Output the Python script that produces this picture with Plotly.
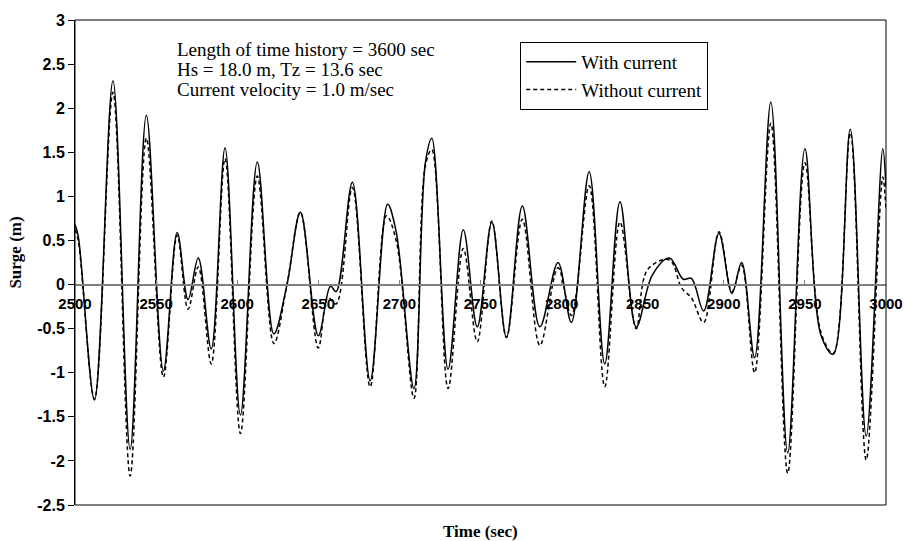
import plotly.graph_objects as go

# ---- data ----
time_with = [2500, 2502, 2512, 2523.4, 2534, 2544, 2554.5, 2563, 2569.7, 2576, 2584, 2592.5,
             2602, 2612.4, 2622.6, 2630.7, 2639, 2650, 2657.5, 2661, 2671, 2682, 2692.7, 2698,
             2709, 2716, 2720, 2730, 2739.4, 2748, 2757, 2766, 2775.8, 2786.6, 2797.8, 2806,
             2817, 2826.6, 2836, 2846, 2856, 2866.5, 2875, 2880, 2887.6, 2897, 2905, 2911,
             2919, 2929, 2939.4, 2950, 2960, 2967.5, 2978, 2987.8, 2998, 3000]
surge_with = [0.68, 0.55, -1.31, 2.31, -1.87, 1.92, -0.98, 0.59, -0.17, 0.30, -0.73, 1.55,
              -1.48, 1.39, -0.56, 0.0, 0.82, -0.58, -0.02, -0.08, 1.16, -1.09, 0.91, 0.60,
              -1.18, 1.38, 1.66, -0.96, 0.62, -0.48, 0.71, -0.60, 0.89, -0.48, 0.25, -0.43,
              1.28, -0.90, 0.94, -0.48, 0.11, 0.30, 0.06, 0.07, -0.30, 0.58, -0.10, 0.25,
              -0.83, 2.07, -1.91, 1.54, -0.58, -0.79, 1.76, -1.72, 1.54, 1.10]

time_without = [2500, 2502, 2512, 2523.4, 2534, 2544, 2554.5, 2563, 2569.7, 2576, 2584, 2592.5,
                2602, 2612.4, 2622.6, 2630.7, 2639, 2650, 2656, 2661, 2671, 2682, 2692, 2698,
                2709, 2716, 2720, 2730, 2739.4, 2748, 2757, 2766, 2775.8, 2786.6, 2797.8, 2806,
                2817, 2826.6, 2836, 2846, 2853, 2866.5, 2874, 2880, 2887.6, 2897, 2905, 2911,
                2919, 2929, 2939.4, 2950, 2960, 2967.5, 2978, 2987.8, 2998, 3000]
surge_without = [0.62, 0.50, -1.30, 2.18, -2.17, 1.66, -1.05, 0.56, -0.28, 0.20, -0.90, 1.43,
                 -1.69, 1.23, -0.67, 0.0, 0.82, -0.72, -0.15, -0.22, 1.10, -1.16, 0.78, 0.50,
                 -1.29, 1.35, 1.53, -1.18, 0.41, -0.65, 0.72, -0.60, 0.74, -0.69, 0.19, -0.35,
                 1.12, -1.16, 0.71, -0.50, 0.17, 0.28, -0.04, -0.15, -0.43, 0.60, -0.08, 0.22,
                 -1.00, 1.83, -2.14, 1.38, -0.55, -0.78, 1.72, -1.99, 1.22, 0.85]

y_tick_vals = [3, 2.5, 2, 1.5, 1, 0.5, 0, -0.5, -1, -1.5, -2, -2.5]
y_tick_text = ["3", "2.5", "2", "1.5", "1", "0.5", "0", "-0.5", "-1", "-1.5", "-2", "-2.5"]
x_tick_vals = [2500, 2550, 2600, 2650, 2700, 2750, 2800, 2850, 2900, 2950, 3000]
x_tick_text = ["2500", "2550", "2600", "2650", "2700", "2750", "2800", "2850", "2900", "2950", "3000"]

info_lines = ["Length of time history = 3600 sec",
              "Hs = 18.0 m, Tz = 13.6 sec",
              "Current velocity = 1.0 m/sec"]

Y_MIN, Y_MAX = -2.5, 3.0
SERIF = "Liberation Serif, Times New Roman, serif"
SANS = "Liberation Sans, Arial, sans-serif"

fig = go.Figure()
fig.add_trace(go.Scatter(x=time_with, y=surge_with, mode="lines", name="With current",
                         line=dict(color="black", width=1.5, shape="spline", smoothing=1.0)))
fig.add_trace(go.Scatter(x=time_without, y=surge_without, mode="lines", name="Without current",
                         line=dict(color="black", width=1.5, dash="4px,3px", shape="spline", smoothing=1.0)))

fig.update_layout(
    width=915, height=541,
    margin=dict(l=75, r=20, t=15, b=36),
    paper_bgcolor="white", plot_bgcolor="white",
    showlegend=True,
    legend=dict(x=0.549, y=0.955, xanchor="left", yanchor="top",
                bordercolor="black", borderwidth=1, bgcolor="white",
                font=dict(family=SERIF, size=19, color="black"),
                itemwidth=50, tracegroupgap=0),
    xaxis=dict(range=[2500, 3000], tickvals=x_tick_vals, ticktext=x_tick_text,
               anchor="free", position=(0 - Y_MIN) / (Y_MAX - Y_MIN),
               showline=True, linecolor="#808080", linewidth=1.5,
               ticks="inside", ticklen=4, tickcolor="#808080",
               ticklabelstandoff=6,
               showgrid=False, zeroline=False,
               tickfont=dict(family=SANS, size=15, color="black", weight="bold")),
    yaxis=dict(range=[Y_MIN, Y_MAX], tickvals=y_tick_vals, ticktext=y_tick_text,
               showline=True, linecolor="black", linewidth=1,
               ticks="outside", ticklen=6, tickcolor="black",
               showgrid=False, zeroline=False,
               tickfont=dict(family=SANS, size=16, color="black", weight="bold")),
)

# plot frame
fig.add_shape(type="rect", xref="paper", yref="paper", x0=0, y0=0, x1=1, y1=1,
              line=dict(color="black", width=1), layer="above")

# info text lines
for i, txt in enumerate(info_lines):
    fig.add_annotation(text=txt, xref="paper", yref="paper",
                       x=0.123, y=0.9388 - i * 0.0408, xanchor="left", yanchor="middle",
                       showarrow=False, font=dict(family=SERIF, size=19, color="black"))

# axis titles
fig.add_annotation(text="<b>Time (sec)</b>", xref="paper", yref="paper", x=0.5, y=-0.055,
                   xanchor="center", yanchor="middle", showarrow=False,
                   font=dict(family=SERIF, size=17, color="black"))
fig.add_annotation(text="<b>Surge (m)</b>", xref="paper", yref="paper", x=-0.073, y=0.52,
                   xanchor="center", yanchor="middle", textangle=-90, showarrow=False,
                   font=dict(family=SERIF, size=17, color="black"))

fig.write_html("out.html", config={"displayModeBar": False},
               post_script="document.body.style.margin='0';document.body.style.overflow='hidden';")
